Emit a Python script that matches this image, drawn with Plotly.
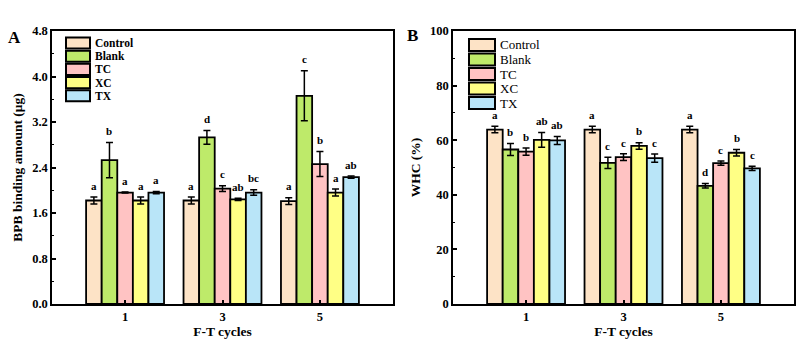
import plotly.graph_objects as go

# F-T cycle groups and treatment series
cycles = ["1", "3", "5"]
series = ["Control", "Blank", "TC", "XC", "TX"]
colors = ["#FDE3C6", "#BEEA6A", "#FFC3C3", "#FFFF85", "#B9E5F8"]

# Panel A: BPB binding amount (μg)
bpb_control = [1.82, 1.82, 1.81]
bpb_blank = [2.53, 2.93, 3.66]
bpb_tc = [1.96, 2.03, 2.46]
bpb_xc = [1.82, 1.84, 1.96]
bpb_tx = [1.96, 1.96, 2.23]
bpb_err_control = [0.06, 0.06, 0.06]
bpb_err_blank = [0.31, 0.12, 0.44]
bpb_err_tc = [0.01, 0.05, 0.22]
bpb_err_xc = [0.06, 0.02, 0.06]
bpb_err_tx = [0.02, 0.05, 0.02]
bpb_letters_control = ["a", "a", "a"]
bpb_letters_blank = ["b", "d", "c"]
bpb_letters_tc = ["a", "c", "b"]
bpb_letters_xc = ["a", "ab", "a"]
bpb_letters_tx = ["a", "bc", "ab"]

# Panel B: WHC (%)
whc_control = [63.9, 63.9, 63.9]
whc_blank = [56.6, 51.7, 43.3]
whc_tc = [55.8, 53.8, 51.6]
whc_xc = [60.1, 57.9, 55.4]
whc_tx = [59.9, 53.4, 49.7]
whc_err_control = [1.2, 1.2, 1.2]
whc_err_blank = [2.2, 2.1, 0.8]
whc_err_tc = [1.3, 1.2, 0.8]
whc_err_xc = [2.7, 1.2, 1.2]
whc_err_tx = [1.5, 1.5, 0.8]
whc_letters_control = ["a", "a", "a"]
whc_letters_blank = ["b", "c", "d"]
whc_letters_tc = ["b", "c", "c"]
whc_letters_xc = ["ab", "b", "b"]
whc_letters_tx = ["ab", "c", "c"]

bpb_vals = [bpb_control, bpb_blank, bpb_tc, bpb_xc, bpb_tx]
bpb_errs = [bpb_err_control, bpb_err_blank, bpb_err_tc, bpb_err_xc, bpb_err_tx]
bpb_lets = [bpb_letters_control, bpb_letters_blank, bpb_letters_tc,
            bpb_letters_xc, bpb_letters_tx]
whc_vals = [whc_control, whc_blank, whc_tc, whc_xc, whc_tx]
whc_errs = [whc_err_control, whc_err_blank, whc_err_tc, whc_err_xc, whc_err_tx]
whc_lets = [whc_letters_control, whc_letters_blank, whc_letters_tc,
            whc_letters_xc, whc_letters_tx]

FONT = "Liberation Serif, Times New Roman, serif"
BARGAP = 0.2
n = len(series)
bar_w = (1 - BARGAP) / n
xpos = list(range(len(cycles)))

fig = go.Figure()

panels = [
    ("x", "y", bpb_vals, bpb_errs, bpb_lets, 0.06),
    ("x2", "y2", whc_vals, whc_errs, whc_lets, 1.2),
]

annotations = []
for xa, ya, vals, errs, lets, pad in panels:
    for i, name in enumerate(series):
        fig.add_trace(go.Bar(
            x=xpos, y=vals[i], name=name, xaxis=xa, yaxis=ya,
            marker=dict(color=colors[i], line=dict(color="black", width=1.8)),
            error_y=dict(type="data", array=errs[i], color="black",
                         thickness=1.5, width=3.5),
            showlegend=False,
        ))
        # significance letters above each error bar
        for g in xpos:
            xc = g - (1 - BARGAP) / 2 + bar_w * (i + 0.5)
            annotations.append(dict(
                x=xc, y=vals[i][g] + errs[i][g] + pad, xref=xa, yref=ya,
                text=lets[i][g], showarrow=False, yanchor="bottom",
                font=dict(family=FONT, size=11, color="black", weight="bold"),
            ))

# legend boxes inside each panel (paper coordinates)
W, H = 799, 349
shapes = []
legend_specs = [
    (66, 90, 43, 13.2, True),
    (469, 495, 45, 14.5, False),
]
for x0, x1, y0, step, bold in legend_specs:
    for i, name in enumerate(series):
        yc = y0 + step * i
        hh = step * 0.42
        shapes.append(dict(
            type="rect", xref="paper", yref="paper",
            x0=x0 / W, x1=x1 / W,
            y0=1 - (yc + hh) / H, y1=1 - (yc - hh) / H,
            fillcolor=colors[i], line=dict(color="black", width=2),
        ))
        annotations.append(dict(
            x=(x1 + 3) / W, y=1 - yc / H, xref="paper", yref="paper",
            text=name, showarrow=False, xanchor="left", yanchor="middle",
            font=dict(family=FONT, size=11.5 if bold else 13, color="black",
                      weight="bold" if bold else "normal"),
        ))

# panel letters
annotations.append(dict(x=6 / W, y=1 - 26 / H, xref="paper", yref="paper",
                        text="A", showarrow=False, xanchor="left",
                        font=dict(family=FONT, size=17, color="black",
                                  weight="bold")))
annotations.append(dict(x=405 / W, y=1 - 24 / H, xref="paper", yref="paper",
                        text="B", showarrow=False, xanchor="left",
                        font=dict(family=FONT, size=17, color="black",
                                  weight="bold")))

tickfont = dict(family=FONT, size=12.5, color="black", weight="bold")
titlefont = dict(family=FONT, size=13.5, color="black", weight="bold")

xcommon = dict(
    tickvals=xpos, ticktext=cycles, range=[-0.75, 2.75],
    ticks="inside", ticklen=4, tickwidth=1.5, tickcolor="black",
    showline=True, linecolor="black", linewidth=1.5, mirror=True,
    showgrid=False, zeroline=False, tickfont=tickfont, automargin=False,
    title=dict(text="F-T cycles", font=titlefont, standoff=4),
)
ycommon = dict(
    ticks="inside", ticklen=4, tickwidth=1.5, tickcolor="black",
    showline=True, linecolor="black", linewidth=1.5, mirror=True,
    showgrid=False, zeroline=False, tickfont=tickfont, automargin=False,
)

ydom = [1 - 304 / H, 1 - 31 / H]
fig.update_layout(
    width=W, height=H,
    margin=dict(l=0, r=0, t=0, b=0),
    paper_bgcolor="white", plot_bgcolor="white",
    barmode="group", bargap=BARGAP, bargroupgap=0,
    xaxis=dict(domain=[52 / W, 393 / W], anchor="y", **xcommon),
    xaxis2=dict(domain=[453 / W, 794 / W], anchor="y2", **xcommon),
    yaxis=dict(domain=ydom, anchor="x", range=[0, 4.8], dtick=0.8,
               tickformat=".1f",
               minor=dict(ticks="inside", ticklen=2.5, dtick=0.4,
                          tickcolor="black", tickwidth=1.2),
               title=dict(text="BPB binding amount (μg)", font=titlefont,
                          standoff=6),
               **ycommon),
    yaxis2=dict(domain=ydom, anchor="x2", range=[0, 100], dtick=20,
                minor=dict(ticks="inside", ticklen=2.5, dtick=10,
                           tickcolor="black", tickwidth=1.2),
                title=dict(text="WHC (%)", font=titlefont, standoff=6),
                **ycommon),
    shapes=shapes,
    annotations=annotations,
)

fig.write_html("out.html")
